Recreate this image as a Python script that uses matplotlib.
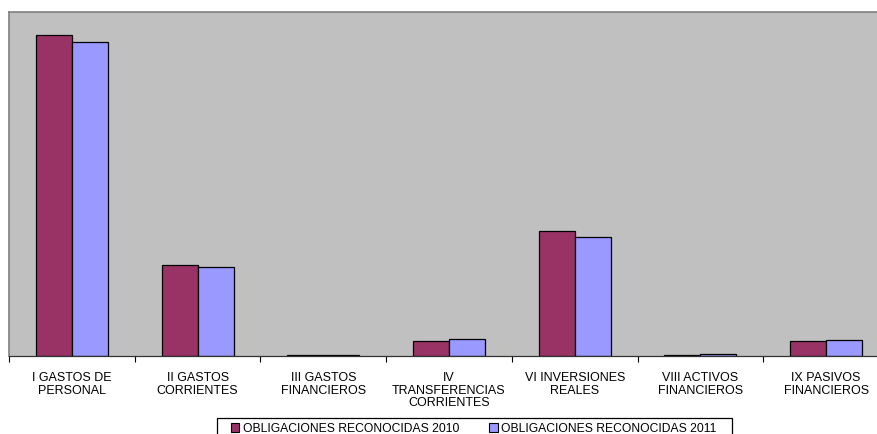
import matplotlib.pyplot as plt
import numpy as np
from matplotlib.patches import Patch, Rectangle

plt.rcParams['font.family'] = ['Liberation Sans', 'DejaVu Sans']

# Categories and values (arbitrary units)
categorias = ["I GASTOS DE\nPERSONAL", "II GASTOS\nCORRIENTES", "III GASTOS\nFINANCIEROS",
              "IV\nTRANSFERENCIAS\nCORRIENTES", "VI INVERSIONES\nREALES",
              "VIII ACTIVOS\nFINANCIEROS", "IX PASIVOS\nFINANCIEROS"]
oblig_2010 = [321, 91, 0.8, 15.5, 125, 1.0, 15]
oblig_2011 = [314, 89, 0.8, 16.8, 119, 1.8, 16]
series = ["OBLIGACIONES RECONOCIDAS 2010", "OBLIGACIONES RECONOCIDAS 2011"]

col_2010 = "#993366"
col_2011 = "#9999FF"

W, H = 877, 435
fig = plt.figure(figsize=(W / 100, H / 100), dpi=100)
# plot area runs past the right edge of the image, as in the original
ax = fig.add_axes([9 / W, (H - 357) / H, (889 - 9) / W, (357 - 12.5) / H])
ax.set_facecolor("#C0C0C0")

x = np.arange(len(categorias))
bw = 0.286
ax.bar(x - bw / 2, oblig_2010, bw, color=col_2010, edgecolor="black", linewidth=0.9)
ax.bar(x + bw / 2, oblig_2011, bw, color=col_2011, edgecolor="black", linewidth=0.9)

ax.set_xlim(-0.5, len(categorias) - 0.5)
ax.set_ylim(0, 344.5)

# tick marks between categories, labels in the middle
ax.set_xticks(np.arange(len(categorias) + 1) - 0.5)
ax.set_xticklabels([])
ax.set_xticks(x, minor=True)
ax.set_xticklabels(categorias, minor=True, fontsize=9, linespacing=1.05)
ax.tick_params(axis="x", which="minor", length=0, pad=11)
ax.tick_params(axis="x", which="major", length=4, width=0.8, color="black")
ax.set_yticks([])

for s in ["top", "left", "right"]:
    ax.spines[s].set_color("#808080")
    ax.spines[s].set_linewidth(1.2)
ax.spines["bottom"].set_color("#333333")
ax.spines["bottom"].set_linewidth(0.9)

# legend box (runs off the bottom of the image)
fig.add_artist(Rectangle((217 / W, -0.05), (732 - 217) / W, 0.05 + (H - 419) / H,
                         transform=fig.transFigure, facecolor="white",
                         edgecolor="black", linewidth=0.9))
handles = [Patch(facecolor=col_2010, edgecolor="black", linewidth=0.8),
           Patch(facecolor=col_2011, edgecolor="black", linewidth=0.8)]
fig.legend(handles, series, loc="center left", bbox_to_anchor=(231 / W, 1 - 429.5 / H),
           ncol=2, fontsize=8.7, frameon=False, handlelength=0.7,
           handleheight=0.7, handletextpad=0.3, columnspacing=2.45,
           borderpad=0, borderaxespad=0)

fig.savefig("out.png", dpi=100)
